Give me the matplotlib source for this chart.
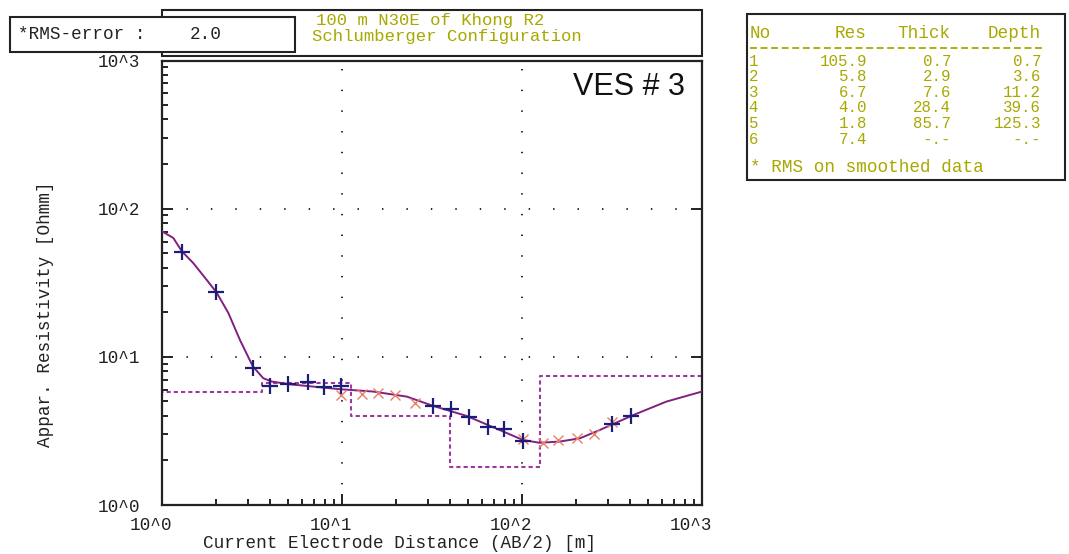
import matplotlib
matplotlib.use("Agg")
import matplotlib.pyplot as plt
from matplotlib.patches import Rectangle
from matplotlib.lines import Line2D
from matplotlib.font_manager import FontProperties
from matplotlib.ticker import FixedLocator, LogLocator, NullFormatter, FuncFormatter
from matplotlib.transforms import ScaledTranslation

plt.rcParams["lines.scale_dashes"] = False

# ---- layer model (table) ----
layer_no = ["1", "2", "3", "4", "5", "6"]
layer_res = [105.9, 5.8, 6.7, 4.0, 1.8, 7.4]
layer_thick = [0.7, 2.9, 7.6, 28.4, 85.7, None]
layer_depth = [0.7, 3.6, 11.2, 39.6, 125.3, None]

# ---- field data (AB/2 [m], apparent resistivity [Ohmm]) ----
meas_ab2 = [1.29, 2.0, 3.2, 3.98, 5.03, 6.45, 7.97, 9.87, 31.9, 40.2, 50.8,
            64.5, 79.7, 100.9, 318, 402]
meas_rho = [51.2, 27.5, 8.43, 6.37, 6.54, 6.75, 6.3, 6.4, 4.67, 4.43, 3.95,
            3.38, 3.26, 2.71, 3.5, 3.99]

smooth_ab2 = [9.87, 12.86, 15.9, 19.7, 25.4, 100.9, 131.5, 159, 201, 252, 318]
smooth_rho = [5.54, 5.62, 5.69, 5.54, 4.91, 2.78, 2.61, 2.75, 2.82, 3.02, 3.64]

# ---- calculated model response ----
calc_ab2 = [1.0, 1.156, 1.29, 1.49, 1.77, 2.01, 2.34, 2.71, 3.2, 3.65, 4.07,
            5.13, 6.45, 9.7, 14.9, 22.9, 32, 49.3, 75, 101, 125, 162, 210,
            271, 416, 635, 1000]
calc_rho = [70.3, 63.4, 51.5, 43.0, 33.1, 27.2, 19.7, 13.0, 8.6, 7.18, 6.81,
            6.53, 6.35, 6.05, 5.83, 5.39, 4.67, 3.99, 3.21, 2.75, 2.63, 2.68,
            2.82, 3.21, 4.05, 4.99, 5.83]

ves_title = "VES # 3"
rms_value = "2.0"
site_lines = ["100 m N30E of Khong R2", "Schlumberger Configuration"]

W, H = 1069, 554
fig = plt.figure(figsize=(W / 100, H / 100), dpi=100)
fig.patch.set_facecolor("white")

mono = "Liberation Mono"
fs = 12.7
olive = "#a8a800"
txt_col = "#222222"

# tightly stacked lines get a font size whose text box fits the line step
_renderer = fig.canvas.get_renderer()
_, _lp_h, _ = _renderer.get_text_width_height_descent(
    "lp", FontProperties(family=mono, size=fs), ismath=False)


def fit_size(step):
    return min(fs, fs * (step - 0.4) / _lp_h)


def fx(px):
    return px / W


def fy(py):
    return 1 - py / H


def ftext(x, y, s, color=olive, ha="left", size=fs, **kw):
    fig.text(fx(x), fy(y), s, family=mono, fontsize=size, color=color,
             ha=ha, va="baseline", **kw)


# ---- header boxes ----
fig.add_artist(Rectangle((fx(162), fy(56)), fx(702) - fx(162), fy(10) - fy(56),
                         transform=fig.transFigure, facecolor="white",
                         edgecolor="#222222", lw=1.5))
fig.add_artist(Rectangle((fx(10), fy(52)), fx(295) - fx(10), fy(17) - fy(52),
                         transform=fig.transFigure, facecolor="white",
                         edgecolor="#222222", lw=1.5, zorder=3))
ftext(18, 39, "*RMS-error :", color=txt_col, zorder=4)
ftext(190, 39, rms_value, color=txt_col, zorder=4)
title_step = 17.0
title_fs = fit_size(title_step)
ftext(316, 24.5, site_lines[0], size=title_fs)
ftext(312, 24.5 + title_step, site_lines[1], size=title_fs)

# ---- result table box ----
fig.add_artist(Rectangle((fx(747), fy(180)), fx(1065) - fx(747), fy(14) - fy(180),
                         transform=fig.transFigure, facecolor="white",
                         edgecolor="#222222", lw=1.5))
col_right = [867, 951, 1041]
ftext(750, 38, "No")
for head, xr in zip(["Res", "Thick", "Depth"], col_right):
    ftext(xr, 38, head, ha="right")
fig.add_artist(Line2D([fx(750), fx(1042)], [fy(48), fy(48)], transform=fig.transFigure,
                      color=olive, lw=1.3, linestyle=(0, (5.0, 2.6))))


def fmt(v):
    return "-.-" if v is None else f"{v:.1f}"


row_y0, row_dy = 65.5, 15.6
row_fs = fit_size(row_dy)
for i, (n, r, t, d) in enumerate(zip(layer_no, layer_res, layer_thick, layer_depth)):
    y = row_y0 + i * row_dy
    ftext(758, y, n, ha="right", size=row_fs)
    for val, xr in zip([r, t, d], col_right):
        ftext(xr, y, fmt(val), ha="right", size=row_fs)
ftext(750, 172, "* RMS on smoothed data")

# ---- main axes ----
ax = fig.add_axes([fx(162), fy(505), fx(702) - fx(162), fy(60.5) - fy(505)])
ax.set_xscale("log")
ax.set_yscale("log")
ax.set_xlim(1, 1000)
ax.set_ylim(1, 1000)

for s in ax.spines.values():
    s.set_linewidth(1.6)
    s.set_color("#222222")

decades = [1, 10, 100, 1000]
labels = ["10^0", "10^1", "10^2", "10^3"]
ax.xaxis.set_major_locator(FixedLocator(decades))
ax.yaxis.set_major_locator(FixedLocator(decades))
ax.xaxis.set_minor_locator(LogLocator(base=10, subs=range(2, 10), numticks=20))
ax.yaxis.set_minor_locator(LogLocator(base=10, subs=range(2, 10), numticks=20))
lab_fmt = FuncFormatter(lambda v, p: labels[decades.index(round(v))] if round(v) in decades else "")
ax.xaxis.set_major_formatter(lab_fmt)
ax.yaxis.set_major_formatter(lab_fmt)
ax.xaxis.set_minor_formatter(NullFormatter())
ax.yaxis.set_minor_formatter(NullFormatter())

ax.tick_params(which="both", direction="in", top=False, right=False,
               color="#222222", width=1.4, labelsize=fs, labelcolor=txt_col)
ax.tick_params(which="major", length=8)
ax.tick_params(which="minor", length=4.5)
ax.tick_params(axis="y", which="major", right=True, pad=16)
ax.tick_params(axis="x", which="major", pad=9)
for lab in ax.get_xticklabels() + ax.get_yticklabels():
    lab.set_family(mono)
for lab in ax.get_xticklabels():
    lab.set_transform(lab.get_transform() + ScaledTranslation(-11 / 100, 0, fig.dpi_scale_trans))

# dotted grid at the decades
for v in [10, 100]:
    ax.axvline(v, color="#222222", lw=1.4, linestyle=(0, (1.0, 13.9)), zorder=1)
    ax.axhline(v, color="#222222", lw=1.4, linestyle=(0, (1.0, 16.6)), zorder=1)

# layered model as a dashed staircase
step_x, step_y = [0.5], [layer_res[0]]
for k in range(len(layer_depth) - 1):
    step_x += [layer_depth[k], layer_depth[k]]
    step_y += [layer_res[k], layer_res[k + 1]]
step_x.append(2000)
step_y.append(layer_res[-1])
ax.plot(step_x, step_y, color="#9a3aa0", lw=1.5, linestyle=(0, (3, 2.2)), zorder=2)

# calculated curve, smoothed and measured data
ax.plot(calc_ab2, calc_rho, color="#80207f", lw=1.4, zorder=3)
ax.plot(smooth_ab2, smooth_rho, linestyle="none", marker="x", ms=7, mew=1.0,
        color="#e8806a", zorder=4)
ax.plot(meas_ab2, meas_rho, linestyle="none", marker="+", ms=11, mew=1.6,
        color="#1c1c7a", zorder=5)

fig.text(fx(685), fy(95), ves_title, ha="right", va="baseline",
         family="Liberation Sans", fontsize=22, color="#111111")

fig.text(fx(46), fy(314), "Appar. Resistivity [Ohmm]", family=mono, fontsize=fs,
         color=txt_col, rotation=90, ha="center", va="center")
fig.text(fx(400), fy(543), "Current Electrode Distance (AB/2) [m]", family=mono,
         fontsize=fs, color=txt_col, ha="center", va="center")

fig.savefig("out.png", dpi=100, facecolor="white")
